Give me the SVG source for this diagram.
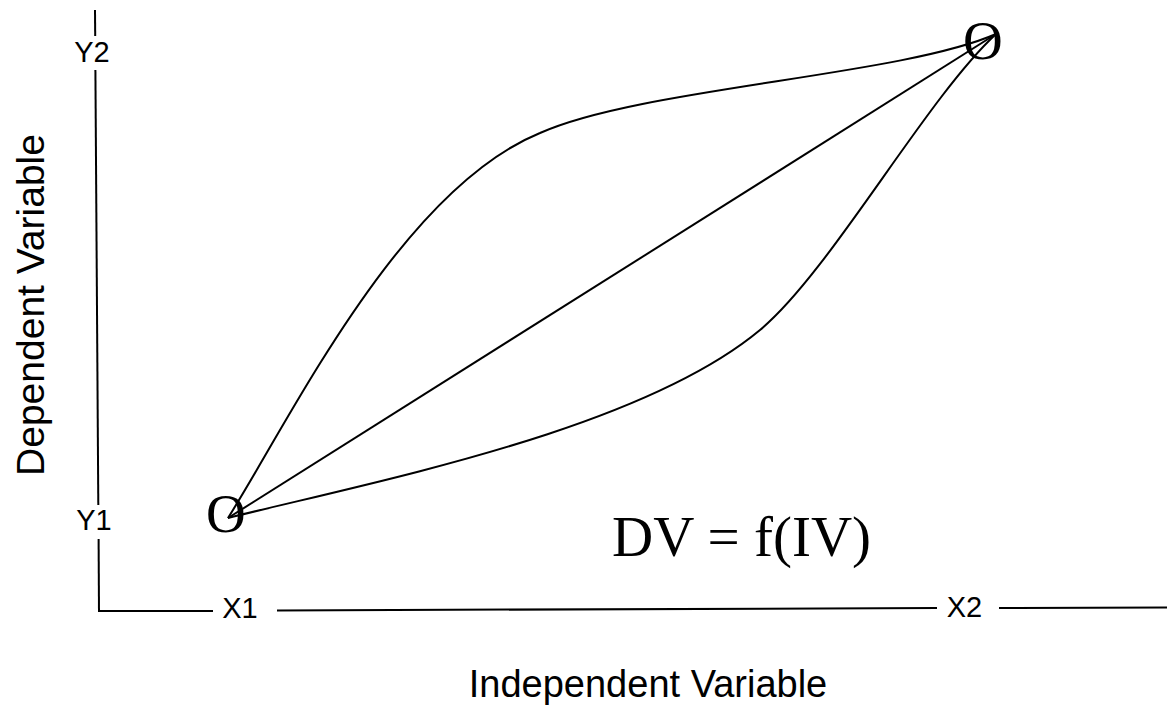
<svg xmlns="http://www.w3.org/2000/svg" width="1167" height="705" viewBox="0 0 1167 705">
<style>
.ax{stroke:#000;stroke-width:2;fill:none}
.cv{stroke:#000;stroke-width:2;fill:none}
.lab{font-family:"Liberation Sans",Arial,sans-serif;font-size:29px;fill:#000;text-anchor:middle}
.title{font-family:"Liberation Sans",Arial,sans-serif;font-size:38px;fill:#000;text-anchor:middle}
.pt{font-family:"Liberation Serif","Times New Roman",serif;font-size:55px;fill:#000}
.eq{font-family:"Liberation Serif","Times New Roman",serif;font-size:57px;fill:#000}
</style>
<rect width="1167" height="705" fill="#fff"/>
<g id="axes">
<line class="ax" x1="95" y1="10" x2="95.2" y2="36"/>
<line class="ax" x1="95.4" y1="70" x2="98.3" y2="505"/>
<line class="ax" x1="98.6" y1="539" x2="99" y2="612"/>
<line class="ax" x1="98" y1="611" x2="213" y2="611"/>
<line class="ax" x1="277" y1="610.5" x2="937" y2="608"/>
<line class="ax" x1="999" y1="608" x2="1167" y2="607.5"/>
</g>
<g id="tick-labels">
<text class="lab" x="92" y="62">Y2</text>
<text class="lab" x="94" y="530">Y1</text>
<text class="lab" x="240" y="618">X1</text>
<text class="lab" x="964.5" y="617">X2</text>
</g>
<g id="axis-titles">
<text class="title" x="648" y="697">Independent Variable</text>
<text class="title" style="font-size:39px" transform="translate(44,305) rotate(-90)">Dependent Variable</text>
</g>
<g id="node-start"><text class="pt" x="206" y="532">O</text></g>
<g id="node-end"><text class="pt" x="963" y="59">O</text></g>
<g id="connectors">
<path class="cv" d="M228,518 L996,34"/>
<path class="cv" d="M228,518 C290,420 400,190 540,133 C640,88 900,76 996,34"/>
<path class="cv" d="M228,518 C380,480 640,430 760,330 C830,272 925,100 996,34"/>
</g>
<g id="equation"><text class="eq" x="612" y="556">DV = f(IV)</text></g>
</svg>
